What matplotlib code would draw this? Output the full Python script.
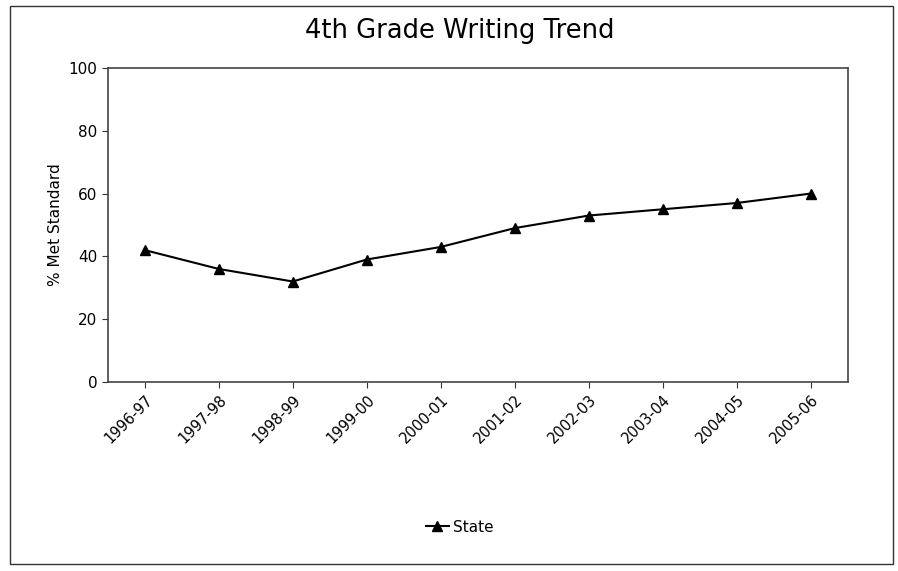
import matplotlib
matplotlib.use("Agg")
import matplotlib.pyplot as plt
from matplotlib.patches import Rectangle

years = ["1996-97", "1997-98", "1998-99", "1999-00", "2000-01",
         "2001-02", "2002-03", "2003-04", "2004-05", "2005-06"]
state = [42, 36, 32, 39, 43, 49, 53, 55, 57, 60]
yticks = [0, 20, 40, 60, 80, 100]

fig = plt.figure(figsize=(8.98, 5.71), dpi=100)
fig.patch.set_facecolor("white")
fig.patches.append(Rectangle((0.011, 0.012), 0.983, 0.978, transform=fig.transFigure,
                             fill=False, edgecolor="#333333", linewidth=1.0))

ax = fig.add_axes([0.120, 0.331, 0.824, 0.550])
x = list(range(len(years)))
line, = ax.plot(x, state, color="black", linewidth=1.5, marker="^",
                markersize=7.5, markerfacecolor="black", markeredgecolor="black",
                label="State")
ax.set_xlim(-0.5, len(years) - 0.5)
ax.set_ylim(0, 100)
ax.set_yticks(yticks)
ax.set_yticklabels([str(v) for v in yticks], fontsize=11)
ax.set_xticks(x)
ax.set_xticklabels(years, rotation=45, ha="right", rotation_mode="anchor", fontsize=10.5)
ax.tick_params(axis="both", length=4, color="#333333")
for s in ax.spines.values():
    s.set_color("#444444")
    s.set_linewidth(1.2)
ax.set_ylabel("% Met Standard", fontsize=11)

fig.text(0.512, 0.945, "4th Grade Writing Trend", ha="center", va="center", fontsize=18.5)
fig.legend(handles=[line], loc="center", bbox_to_anchor=(0.512, 0.077), frameon=False,
           fontsize=11, handlelength=1.5, handletextpad=0.3)

fig.savefig("out.png", dpi=100)
